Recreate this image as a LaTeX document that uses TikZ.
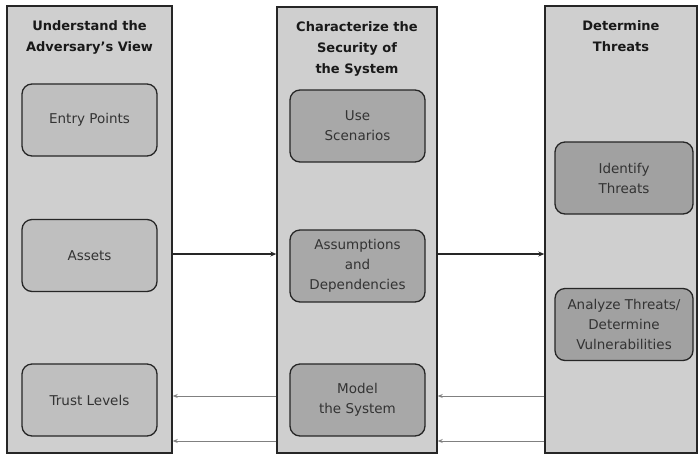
\documentclass[tikz,border=0pt]{standalone}
\usepackage{fontspec}
\setmainfont{DejaVu Sans}
\usetikzlibrary{arrows.meta}
\begin{document}
\begin{tikzpicture}[x=1pt,y=-1pt,
  column/.style={draw=black!85,line width=1.4pt,fill=black!19,inner sep=0pt},
  title/.style={font=\bfseries\fontsize{13}{21}\selectfont,align=center,inner sep=0pt,anchor=north,text=black!90},
  stage/.style={draw=black!85,line width=1.3pt,rounded corners=10pt,inner sep=0pt,
    minimum width=135pt,minimum height=72pt,align=center,
    font=\fontsize{13.5}{20}\selectfont,text=black!80},
  light/.style={stage,fill=black!25},
  mid/.style={stage,fill=black!34},
  dark/.style={stage,fill=black!37,minimum width=138pt},
  fwd/.style={-{Stealth[length=6pt,width=5pt]},line width=1.1pt,draw=black!85},
  back/.style={-{Stealth[length=5pt,width=4pt]},line width=1pt,draw=black!50}
]
\useasboundingbox (0,0) rectangle (698,456);

% three stage columns
\node[column,minimum width=165pt,minimum height=447pt] (colL) at (89.5,229.5) {};
\node[column,minimum width=160pt,minimum height=446pt] (colM) at (357,230) {};
\node[column,minimum width=152pt,minimum height=447pt] (colR) at (621,229.5) {};

% column headings
\node[title] (tL) at (89.5,20) {Understand the\\Adversary's View};
\node[title] (tM) at (357,21) {Characterize the\\Security of\\the System};
\node[title] (tR) at (621,20) {Determine\\Threats};

% activities in each column
\node[light] (entry)  at (89.5,120)  {Entry Points};
\node[light] (assets) at (89.5,255.5) {Assets};
\node[light] (trust)  at (89.5,400)  {Trust Levels};

\node[mid] (usage)  at (357.5,126) {Use\\Scenarios};
\node[mid] (assume) at (357.5,266) {Assumptions\\and\\Dependencies};
\node[mid] (model)  at (357.5,400) {Model\\the System};

\node[dark] (ident)   at (624,178)   {Identify\\Threats};
\node[dark] (analyze) at (624,324.5) {Analyze Threats/\\Determine\\Vulnerabilities};

% forward flow between stages
\draw[fwd] (colL.east |- 0,254) -- (colM.west |- 0,254);
\draw[fwd] (colM.east |- 0,254) -- (colR.west |- 0,254);

% feedback to earlier stages
\draw[back] (colR.west |- 0,396) -- (colM.east |- 0,396);
\draw[back] (colM.west |- 0,396) -- (colL.east |- 0,396);
\draw[back] (colR.west |- 0,441) -- (colM.east |- 0,441);
\draw[back] (colM.west |- 0,441) -- (colL.east |- 0,441);
\end{tikzpicture}
\end{document}
